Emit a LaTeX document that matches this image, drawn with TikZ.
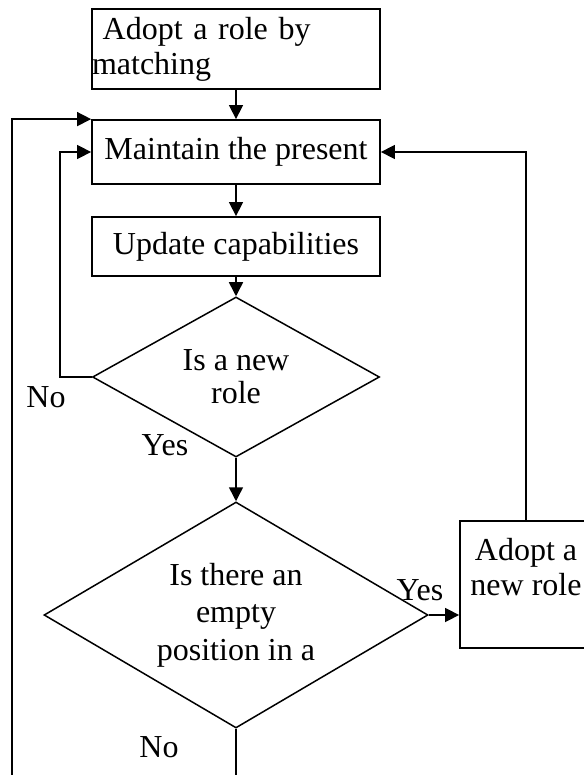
\documentclass[tikz,border=0pt]{standalone}
\usepackage{fontspec}
\setmainfont{Liberation Serif}
\usetikzlibrary{shapes.geometric,arrows.meta}
\begin{document}
\begin{tikzpicture}[x=0.5pt, y=-0.5pt, >={Triangle[length=7pt,width=7pt]},
    font=\fontsize{16}{17.5}\selectfont]
  \tikzstyle{blk}=[draw, line width=0.9pt, minimum width=144pt, inner sep=0pt, align=center]
  \tikzstyle{dec}=[draw, diamond, line width=0.75pt, inner sep=0pt, align=center]
  \tikzstyle{lnk}=[->, line width=0.75pt]
  \useasboundingbox (0,0) rectangle (583,775);

  % --- boxes ---
  \node[blk, minimum height=40pt, text width=144pt, align=left] (adopt) at (236,49) {\ Adopt a role by\\matching};
  \node[blk, minimum height=32pt] (maintain) at (236,152) {Maintain the present};
  \node[blk, minimum height=29.5pt] (update) at (236,246.5) {Update capabilities};
  \node[blk, minimum width=66pt, minimum height=63.5pt] (adoptnew) at (526,584.5) {Adopt a\\new role\\\mbox{}};

  % --- decisions ---
  \node[dec, minimum width=143.5pt, minimum height=80pt, aspect=1.8,
        font=\fontsize{16}{16.5}\selectfont] (newrole) at (236,377) {Is a new\\role};
  \node[dec, minimum width=192pt, minimum height=113pt, aspect=1.7,
        font=\fontsize{16}{18.75}\selectfont] (empty) at (236,615) {Is there an\\empty\\position in a};

  % --- labels ---
  \node (no1)  at (46,397)  {No};
  \node (yes1) at (165,445) {Yes};
  \node (yes2) at (420,590) {Yes};
  \node (no2)  at (159,747) {No};

  % --- main flow ---
  \draw[lnk] (adopt) -- (maintain);
  \draw[lnk] (maintain) -- (update);
  \draw[lnk] (update) -- (newrole);
  \draw[lnk] (newrole) -- (empty);
  \draw[lnk] (empty.east) -- (empty.east -| adoptnew.west);

  % --- loops back ---
  \coordinate (outbottom) at (12,780);
  \draw[lnk] (adoptnew.north) |- (maintain.east);
  \draw[lnk] (newrole.west) -- ++(-32,0) |- (maintain.west);
  \draw[lnk] (outbottom) |- (maintain.north west);
  \draw[line width=0.75pt] (empty.south) -- (empty.south |- outbottom);
\end{tikzpicture}
\end{document}
